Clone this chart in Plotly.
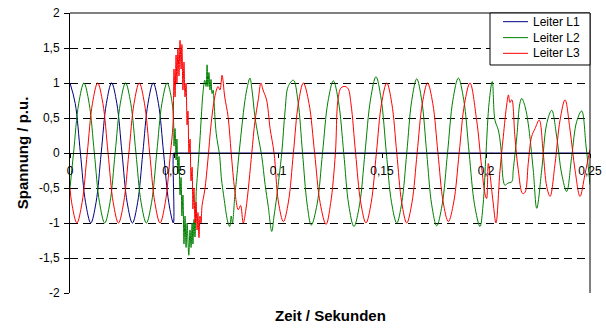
import plotly.graph_objects as go

# ---------------- data ----------------
x_tick_vals = [0, 0.05, 0.1, 0.15, 0.2, 0.25]
x_tick_text = ["0", "0,05", "0,1", "0,15", "0,2", "0,25"]
y_tick_vals = [-2, -1.5, -1, -0.5, 0, 0.5, 1, 1.5, 2]
y_tick_text = ["-2", "-1,5", "-1", "-0,5", "0", "0,5", "1", "1,5", "2"]

series_names = ["Leiter L1", "Leiter L2", "Leiter L3"]

t_L1 = [0, 0.0025, 0.005, 0.0075, 0.01, 0.0125, 0.015, 0.0175, 0.02, 0.0225,
        0.025, 0.0275, 0.03, 0.0325, 0.035, 0.0375, 0.04, 0.0425, 0.045, 0.0475,
        0.0497, 0.0498, 0.0500, 0.0505, 0.25]
v_L1 = [1, 0.71, 0, -0.71, -1, -0.71, 0, 0.71, 1, 0.71,
        0, -0.71, -1, -0.71, 0, 0.71, 1, 0.71, 0, -0.71,
        -1, 0, 0, 0, 0]

t_L2 = [0, 0.0017, 0.0042, 0.0067, 0.0092, 0.0117, 0.0142, 0.0167, 0.0192, 0.0217,
        0.0242, 0.0267, 0.0292, 0.0317, 0.0342, 0.0367, 0.0392, 0.0417, 0.0442, 0.0467,
        0.0490, 0.0498, 0.0500, 0.0505, 0.0510, 0.0514, 0.0519, 0.0524, 0.0529, 0.0534,
        0.0538, 0.0543, 0.0548, 0.0553, 0.0558, 0.0563, 0.0571, 0.0577, 0.0582, 0.0587,
        0.0591, 0.0596, 0.0601, 0.0607, 0.0613, 0.0624, 0.0631, 0.0639, 0.0648, 0.0654,
        0.0659, 0.0663, 0.0668, 0.0673, 0.0678, 0.0683, 0.0688, 0.0692, 0.0703, 0.0720,
        0.0727, 0.0744, 0.0750, 0.0760, 0.0768, 0.0775, 0.0781, 0.0792, 0.0798, 0.0813,
        0.0827, 0.0841, 0.0853, 0.0865, 0.0875, 0.0889, 0.0904, 0.0922, 0.0938, 0.0953,
        0.0970, 0.0981, 0.0994, 0.1018, 0.1034, 0.1049, 0.1074, 0.1096, 0.1118, 0.1140,
        0.1160, 0.1188, 0.1214, 0.1240, 0.1266, 0.1291, 0.1316, 0.1340, 0.1365, 0.1392,
        0.1418, 0.1445, 0.1471, 0.1496, 0.1521, 0.1546, 0.1571, 0.1595, 0.1619, 0.1643,
        0.1667, 0.1691, 0.1715, 0.1739, 0.1763, 0.1789, 0.1815, 0.1841, 0.1867, 0.1893,
        0.1919, 0.1945, 0.1971, 0.1986, 0.2000, 0.2015, 0.2030, 0.2043, 0.2059, 0.2071,
        0.2083, 0.2091, 0.2106, 0.2124, 0.2131, 0.2148, 0.2163, 0.2172, 0.2188, 0.2203,
        0.2227, 0.2244, 0.2268, 0.2292, 0.2316, 0.2340, 0.2364, 0.2388, 0.2412, 0.2436,
        0.2460, 0.2481, 0.2500]
v_L2 = [-0.5, 0, 0.71, 1, 0.71, 0, -0.71, -1, -0.71, 0,
        0.71, 1, 0.71, 0, -0.71, -1, -0.71, 0, 0.71, 1,
        0.74, 0.45, 0.1, 0.35, -0.1, 0.2, -0.3, -0.05, -0.6, -0.35,
        -0.9, -0.6, -1.3, -0.9, -1.35, -1.0, -1.46, -1.1, -1.35, -1.0,
        -1.3, -0.95, -1.2, -0.55, -0.3, 0.16, 0.5, 0.85, 1.04, 0.95,
        1.26, 0.95, 1.15, 0.9, 1.05, 0.85, 0.9, 0.75, 0.28, -0.05,
        -0.34, -0.72, -0.85, -1.0, -1.05, -0.9, -1.0, -0.62, -0.45, 0.0,
        0.4, 0.75, 0.95, 1.07, 0.9, 0.52, 0.25, -0.05, -0.45, -0.76,
        -1.12, -0.9, -0.62, 0.0, 0.6, 0.95, 1.04, 0.74, 0.0, -0.73,
        -1.03, -0.73, 0.0, 0.73, 1.03, 0.73, 0.0, -0.74, -1.05, -0.74,
        0.0, 0.77, 1.09, 0.77, 0.0, -0.71, -1.0, -0.71, 0.0, 0.75,
        1.06, 0.75, 0.0, -0.74, -1.04, -0.74, 0.0, 0.76, 1.07, 0.76,
        0.0, -0.74, -1.05, -0.74, 0.0, 0.72, 1.02, 0.47, 0.33, 0.09,
        -0.39, -0.46, -0.43, -0.41, -0.24, 0.23, 0.71, 0.78, 0.66, 0.42,
        -0.24, -0.79, -0.24, 0.42, 0.61, 0.23, -0.3, -0.55, -0.05, 0.45,
        0.6, 0.1, -0.45]

t_L3 = [0, 0.0008, 0.0033, 0.0058, 0.0083, 0.0108, 0.0133, 0.0158, 0.0183, 0.0208,
        0.0233, 0.0258, 0.0283, 0.0308, 0.0333, 0.0358, 0.0383, 0.0408, 0.0433, 0.0458,
        0.0483, 0.0495, 0.0500, 0.0505, 0.0510, 0.0514, 0.0519, 0.0524, 0.0529, 0.0534,
        0.0538, 0.0543, 0.0548, 0.0553, 0.0558, 0.0563, 0.0567, 0.0572, 0.0577, 0.0582,
        0.0587, 0.0591, 0.0596, 0.0601, 0.0606, 0.0611, 0.0615, 0.0620, 0.0625, 0.0630,
        0.0635, 0.0648, 0.0663, 0.0679, 0.0696, 0.0712, 0.0721, 0.0731, 0.0744, 0.0760,
        0.0775, 0.0792, 0.0809, 0.0820, 0.0833, 0.0846, 0.0874, 0.0889, 0.0905, 0.0918,
        0.0928, 0.0945, 0.0962, 0.0981, 0.1002, 0.1026, 0.1050, 0.1074, 0.1098, 0.1122,
        0.1149, 0.1176, 0.1203, 0.1231, 0.1253, 0.1276, 0.1288, 0.1303, 0.1322, 0.1337,
        0.1351, 0.1373, 0.1398, 0.1423, 0.1448, 0.1473, 0.1498, 0.1523, 0.1547, 0.1571,
        0.1595, 0.1619, 0.1644, 0.1669, 0.1694, 0.1719, 0.1744, 0.1769, 0.1794, 0.1819,
        0.1845, 0.1871, 0.1897, 0.1923, 0.1955, 0.1979, 0.1995, 0.2003, 0.2011, 0.2019,
        0.2034, 0.2048, 0.2067, 0.2083, 0.2100, 0.2108, 0.2115, 0.2124, 0.2139, 0.2155,
        0.2176, 0.2188, 0.2203, 0.2219, 0.2236, 0.2256, 0.2275, 0.2292, 0.2308, 0.2332,
        0.2356, 0.2380, 0.2404, 0.2428, 0.2452, 0.2476, 0.2500]
v_L3 = [-0.5, -0.71, -1, -0.71, 0, 0.71, 1, 0.71, 0, -0.71,
        -1, -0.71, 0, 0.71, 1, 0.71, 0, -0.71, -1, -0.71,
        0, 0.4, 1.2, 0.8, 1.4, 1.0, 1.5, 1.1, 1.61, 1.2,
        1.55, 0.9, 1.3, 0.8, 1.0, 0.4, 0.6, 0.0, 0.2, -0.4,
        -0.2, -0.8, -0.5, -1.0, -0.7, -1.1, -0.85, -1.21, -0.9, -1.0,
        -0.75, -0.53, -0.1, 0.43, 0.8, 0.95, 0.9, 1.11, 0.8, 0.52,
        0.0, -0.53, -0.81, -0.75, -1.0, -0.8, 0.0, 0.45, 0.76, 1.0,
        0.9, 0.76, 0.35, 0.0, -0.7, -0.98, -0.7, 0.0, 0.71, 1.0,
        0.71, 0.0, -0.72, -1.02, -0.72, 0.0, 0.75, 0.93, 0.95, 0.92,
        0.7, 0.0, -0.71, -1.0, -0.71, 0.0, 0.71, 1.0, 0.71, 0.0,
        -0.71, -1.0, -0.71, 0.0, 0.71, 1.0, 0.71, 0.0, -0.7, -0.98,
        -0.7, 0.0, 0.71, 1.0, 0.47, -0.2, -0.58, -0.65, -0.15, -0.3,
        -0.7, -1.0, -0.26, 0.23, 0.7, 0.83, 0.72, 0.76, 0.23, -0.24,
        -0.58, -0.56, -0.15, 0.23, 0.35, 0.47, 0.0, -0.48, -0.62, -0.15,
        0.47, 0.76, 0.33, -0.24, -0.62, -0.3, 0.05]

series_t = [t_L1, t_L2, t_L3]
series_v = [v_L1, v_L2, v_L3]
series_colors = ["#000080", "#008000", "#FF0000"]

FONT = "Liberation Sans, Arial, sans-serif"

fig = go.Figure()
for name, t, v, c in zip(series_names, series_t, series_v, series_colors):
    fig.add_trace(go.Scatter(
        x=t, y=v, name=name, mode="lines",
        line=dict(color=c, width=1, shape="spline", smoothing=1),
        hoverinfo="skip", showlegend=False,
    ))

# ---- hand-built legend box (compact Excel-style) ----
leg_x0, leg_x1, leg_y0, leg_y1 = 0.8077, 1.0, 0.8143, 1.0
leg_rows_y = [0.969, 0.912, 0.856]
leg_line_x = (0.8327, 0.8808)
leg_text_x = 0.8856

shapes = [
    dict(type="line", xref="paper", yref="paper", x0=0, x1=1, y0=1, y1=1,
         line=dict(color="black", width=1)),
    dict(type="line", xref="paper", yref="paper", x0=1, x1=1, y0=0, y1=1,
         line=dict(color="black", width=1)),
    dict(type="rect", xref="paper", yref="paper", x0=leg_x0, x1=leg_x1,
         y0=leg_y0, y1=leg_y1, line=dict(color="black", width=1),
         fillcolor="white", layer="above"),
]
annotations = [
    dict(text="<b>Zeit / Sekunden</b>", xref="paper", yref="paper",
         x=0.5, y=-0.082, xanchor="center", yanchor="middle",
         showarrow=False, font=dict(family=FONT, size=15, color="black")),
    dict(text="<b>Spannung / p.u.</b>", xref="paper", yref="paper",
         x=-0.092, y=0.5, xanchor="center", yanchor="middle", textangle=-90,
         showarrow=False, font=dict(family=FONT, size=15, color="black")),
]
for name, c, ry in zip(series_names, series_colors, leg_rows_y):
    shapes.append(dict(type="line", xref="paper", yref="paper",
                       x0=leg_line_x[0], x1=leg_line_x[1], y0=ry, y1=ry,
                       line=dict(color=c, width=1), layer="above"))
    annotations.append(dict(text=name, xref="paper", yref="paper",
                            x=leg_text_x, y=ry, xanchor="left", yanchor="middle",
                            showarrow=False,
                            font=dict(family=FONT, size=12, color="black")))

fig.update_layout(
    width=606, height=329,
    margin=dict(l=70, r=16, t=13, b=36, pad=0),
    paper_bgcolor="white", plot_bgcolor="white",
    font=dict(family=FONT, size=12, color="black"),
    showlegend=False,
    xaxis=dict(
        range=[0, 0.25], anchor="free", position=0.5, automargin=False,
        showline=True, linecolor="black", linewidth=1,
        ticks="outside", ticklen=4, tickcolor="black", tickwidth=1,
        tickvals=x_tick_vals, ticktext=x_tick_text,
        tickfont=dict(family=FONT, size=12, color="black"),
        ticklabelstandoff=3,
        showgrid=False, zeroline=False,
    ),
    yaxis=dict(
        range=[-2, 2], anchor="x", automargin=False,
        showline=True, linecolor="black", linewidth=1,
        ticks="outside", ticklen=5, tickcolor="black", tickwidth=1,
        tickvals=y_tick_vals, ticktext=y_tick_text,
        tickfont=dict(family=FONT, size=12, color="black"),
        ticklabelstandoff=2,
        showgrid=True, gridcolor="black", gridwidth=1, griddash="8px,5px",
        zeroline=False,
    ),
    yaxis2=dict(
        range=[-2, 2], overlaying="y", matches="y", anchor="x", side="left",
        automargin=False,
        ticks="inside", ticklen=5, tickcolor="black", tickwidth=1,
        tickvals=y_tick_vals, showticklabels=False,
        showgrid=False, zeroline=False, showline=False,
    ),
    shapes=shapes,
    annotations=annotations,
)

fig.write_html("out.html")
